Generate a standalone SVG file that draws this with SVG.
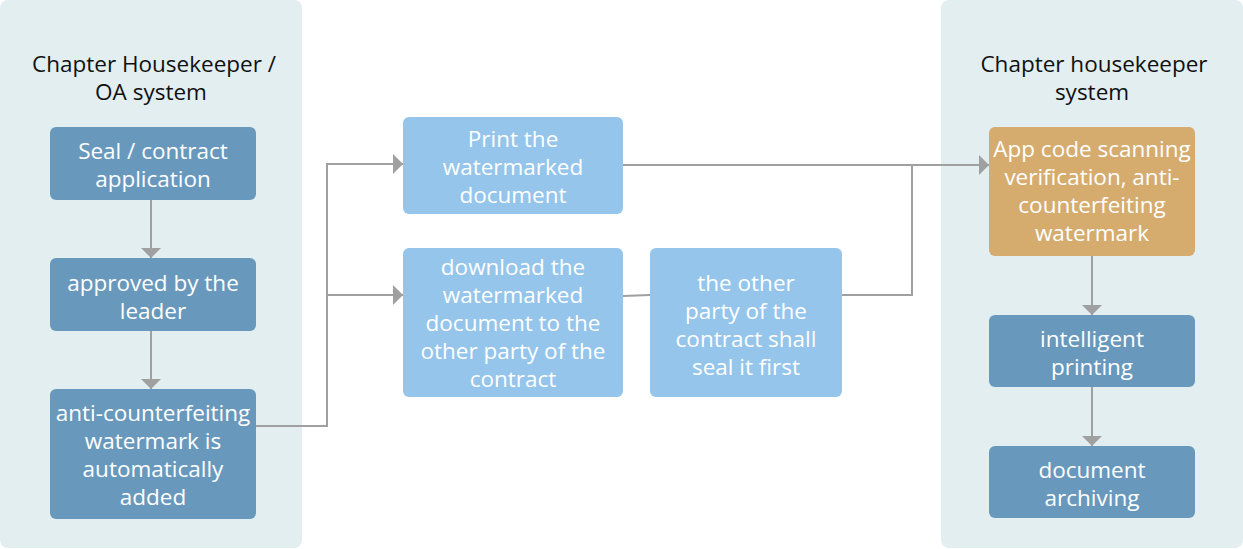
<svg xmlns="http://www.w3.org/2000/svg" width="1243" height="549" viewBox="0 0 1243 549">
<defs>
<style>
.panel{fill:#e2eef0}
.dark{fill:#6899bd}
.light{fill:#95c5eb}
.orange{fill:#d5ac6e}
.t{font-family:"Open Sans","Noto Sans","Liberation Sans",sans-serif;font-size:22.5px;fill:#ffffff;text-anchor:middle}
.title{font-family:"Open Sans","Noto Sans","Liberation Sans",sans-serif;font-size:22.5px;fill:#111111;text-anchor:middle}
.c{fill:none;stroke:#a0a0a0;stroke-width:2}
</style>
<marker id="ah" markerUnits="userSpaceOnUse" markerWidth="10" markerHeight="20" refX="10" refY="10" orient="auto">
<path d="M0,0 L10,10 L0,20 Z" fill="#a0a0a0"/>
</marker>
</defs>
<rect width="1243" height="549" fill="#ffffff"/>
<g id="panel-left">
<rect class="panel" x="0" y="0" width="302" height="548" rx="8"/>
<text class="title" x="154" y="72">Chapter Housekeeper /</text>
<text class="title" x="151" y="100">OA system</text>
</g>
<g id="panel-right">
<rect class="panel" x="941" y="0" width="302" height="548" rx="8"/>
<text class="title" x="1094" y="72">Chapter housekeeper</text>
<text class="title" x="1092" y="100">system</text>
</g>
<g id="connectors">
<line class="c" x1="151" y1="200" x2="151" y2="258" marker-end="url(#ah)"/>
<line class="c" x1="151" y1="331" x2="151" y2="389" marker-end="url(#ah)"/>
<polyline class="c" points="256,426 327,426 327,164 403,164" marker-end="url(#ah)"/>
<line class="c" x1="327" y1="295" x2="403" y2="295" marker-end="url(#ah)"/>
<line class="c" x1="623" y1="296" x2="650" y2="295"/>
<polyline class="c" points="842,295 912,295 912,165"/>
<line class="c" x1="623" y1="165" x2="989" y2="165" marker-end="url(#ah)"/>
<line class="c" x1="1092" y1="256" x2="1092" y2="315" marker-end="url(#ah)"/>
<line class="c" x1="1092" y1="387" x2="1092" y2="446" marker-end="url(#ah)"/>
</g>
<g id="node-seal">
<rect class="dark" x="50" y="127" width="206" height="73" rx="6"/>
<text class="t" x="153" y="159">Seal / contract</text>
<text class="t" x="153" y="187">application</text>
</g>
<g id="node-approved">
<rect class="dark" x="50" y="258" width="206" height="73" rx="6"/>
<text class="t" x="153" y="291">approved by the</text>
<text class="t" x="153" y="319">leader</text>
</g>
<g id="node-watermark">
<rect class="dark" x="50" y="389" width="206" height="130" rx="6"/>
<text class="t" x="153" y="421">anti-counterfeiting</text>
<text class="t" x="153" y="449">watermark is</text>
<text class="t" x="153" y="477">automatically</text>
<text class="t" x="153" y="505">added</text>
</g>
<g id="node-print">
<rect class="light" x="403" y="117" width="220" height="97" rx="6"/>
<text class="t" x="513" y="147">Print the</text>
<text class="t" x="513" y="175">watermarked</text>
<text class="t" x="513" y="203">document</text>
</g>
<g id="node-download">
<rect class="light" x="403" y="248" width="220" height="149" rx="6"/>
<text class="t" x="513" y="275">download the</text>
<text class="t" x="513" y="303">watermarked</text>
<text class="t" x="513" y="331">document to the</text>
<text class="t" x="513" y="359">other party of the</text>
<text class="t" x="513" y="387">contract</text>
</g>
<g id="node-other">
<rect class="light" x="650" y="248" width="192" height="149" rx="6"/>
<text class="t" x="746" y="291">the other</text>
<text class="t" x="746" y="319">party of the</text>
<text class="t" x="746" y="347">contract shall</text>
<text class="t" x="746" y="375">seal it first</text>
</g>
<g id="node-app">
<rect class="orange" x="989" y="127" width="206" height="129" rx="6"/>
<text class="t" x="1092" y="157">App code scanning</text>
<text class="t" x="1092" y="185">verification, anti-</text>
<text class="t" x="1092" y="213">counterfeiting</text>
<text class="t" x="1092" y="241">watermark</text>
</g>
<g id="node-intelligent">
<rect class="dark" x="989" y="315" width="206" height="72" rx="6"/>
<text class="t" x="1092" y="347">intelligent</text>
<text class="t" x="1092" y="375">printing</text>
</g>
<g id="node-archiving">
<rect class="dark" x="989" y="446" width="206" height="72" rx="6"/>
<text class="t" x="1092" y="478">document</text>
<text class="t" x="1092" y="506">archiving</text>
</g>
</svg>
